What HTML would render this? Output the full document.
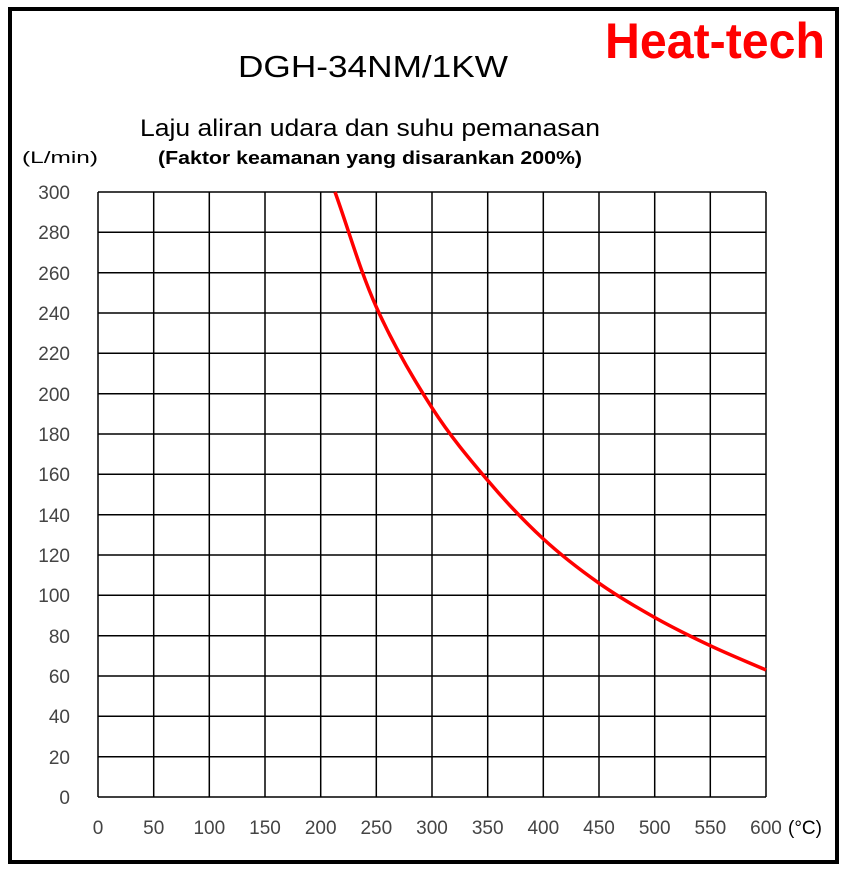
<!DOCTYPE html>
<html><head><meta charset="utf-8"><style>html,body{margin:0;padding:0;background:#fff}</style></head>
<body>
<svg width="851" height="870" xmlns="http://www.w3.org/2000/svg" font-family="Liberation Sans, sans-serif">
<rect x="0" y="0" width="851" height="870" fill="#fff"/>
<rect x="10" y="9" width="827" height="853" fill="none" stroke="#000" stroke-width="4"/>
<text x="605" y="58" font-size="50" font-weight="bold" fill="#f00" textLength="220" lengthAdjust="spacingAndGlyphs">Heat-tech</text>
<text x="238" y="77" font-size="31" fill="#000" textLength="270" lengthAdjust="spacingAndGlyphs">DGH-34NM/1KW</text>
<text x="140" y="136" font-size="24" fill="#000" textLength="460" lengthAdjust="spacingAndGlyphs">Laju aliran udara dan suhu pemanasan</text>
<text x="158" y="164" font-size="18" font-weight="bold" fill="#000" textLength="424" lengthAdjust="spacingAndGlyphs">(Faktor keamanan yang disarankan 200%)</text>
<text x="22" y="163" font-size="17" fill="#000" textLength="76" lengthAdjust="spacingAndGlyphs">(L/min)</text>
<g stroke="#000" stroke-width="1.5" fill="none">
<path d="M98 192V797M153.7 192V797M209.3 192V797M265 192V797M320.7 192V797M376.3 192V797M432 192V797M487.7 192V797M543.3 192V797M599 192V797M654.7 192V797M710.3 192V797M766 192V797"/>
<path d="M98 192H766M98 232.3H766M98 272.7H766M98 313H766M98 353.3H766M98 393.7H766M98 434H766M98 474.3H766M98 514.7H766M98 555H766M98 595.3H766M98 635.7H766M98 676H766M98 716.3H766M98 756.7H766M98 797H766"/>
</g>
<g font-size="19" fill="#444" text-anchor="end">
<text x="70" y="199">300</text><text x="70" y="239">280</text><text x="70" y="280">260</text><text x="70" y="320">240</text><text x="70" y="360">220</text><text x="70" y="401">200</text><text x="70" y="441">180</text><text x="70" y="481">160</text><text x="70" y="522">140</text><text x="70" y="562">120</text><text x="70" y="602">100</text><text x="70" y="643">80</text><text x="70" y="683">60</text><text x="70" y="723">40</text><text x="70" y="764">20</text><text x="70" y="804">0</text>
</g>
<g font-size="19" fill="#444" text-anchor="middle">
<text x="98" y="834">0</text><text x="153.7" y="834">50</text><text x="209.3" y="834">100</text><text x="265" y="834">150</text><text x="320.7" y="834">200</text><text x="376.3" y="834">250</text><text x="432" y="834">300</text><text x="487.7" y="834">350</text><text x="543.3" y="834">400</text><text x="599" y="834">450</text><text x="654.7" y="834">500</text><text x="710.3" y="834">550</text><text x="766" y="834">600</text>
</g>
<text x="788" y="834" font-size="19" fill="#000">(°C)</text>
<path d="M335 192 C348.8 230.3 360.1 271 376.3 307 C392.5 343 413.4 378.9 432 407.8 C450.6 436.7 469.2 458.6 487.7 480.4 C506.2 502.3 524.8 521.8 543.3 538.9 C561.9 556 580.4 570.1 599 583.2 C617.6 596.3 636.2 607.1 654.7 617.5 C673.2 627.9 691.8 637 710.3 645.7 C728.9 654.5 747.4 661.9 766 670" fill="none" stroke="#f00" stroke-width="3.5"/>
</svg>
</body></html>
